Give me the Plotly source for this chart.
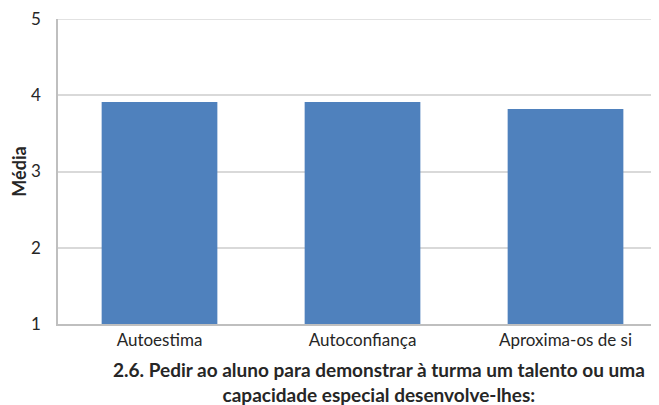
import plotly.graph_objects as go

categorias = ["Autoestima", "Autoconfiança", "Aproxima-os de si"]
medias = [3.91, 3.91, 3.82]
titulo = "2.6. Pedir ao aluno para demonstrar à turma um talento ou uma<br>capacidade especial desenvolve-lhes:"

fig = go.Figure()
fig.add_trace(go.Bar(x=categorias, y=medias, marker_color="#4F81BD",
                     marker_line_width=0))

# the page body adds an 8px offset, so margins are shifted to compensate
fig.update_layout(
    width=659, height=405,
    margin=dict(l=50, r=0, t=11, b=89),
    paper_bgcolor="white", plot_bgcolor="white",
    font=dict(family="Lato", size=17, color="#262626"),
    bargap=0.43,
    showlegend=False,
)
fig.update_xaxes(range=[-0.5, 2.5], showline=True, linecolor="#BFBFBF",
                 linewidth=1.5, ticks="", tickfont=dict(size=17), automargin=False)
fig.update_yaxes(range=[1, 5], dtick=1, showgrid=True,
                 gridcolor="#D9D9D9", gridwidth=1.5, showline=True,
                 linecolor="#BFBFBF", linewidth=1.5,
                 ticks="", ticklabelstandoff=12, tickfont=dict(size=17),
                 automargin=False, ticklabeloverflow="allow",
                 title=dict(text="<b>Média</b>", font=dict(size=18), standoff=9))

# plotly drops the gridline at the top edge, so draw it
fig.add_shape(type="line", xref="paper", yref="y", x0=0, x1=1, y0=5, y1=5,
              line=dict(color="#D9D9D9", width=1.5))

fig.add_annotation(text="<b>" + titulo + "</b>", xref="paper", yref="paper",
                   x=0.527, y=-0.189, xanchor="center", yanchor="middle",
                   showarrow=False, font=dict(size=19), align="center")

fig.write_html("out.html")
